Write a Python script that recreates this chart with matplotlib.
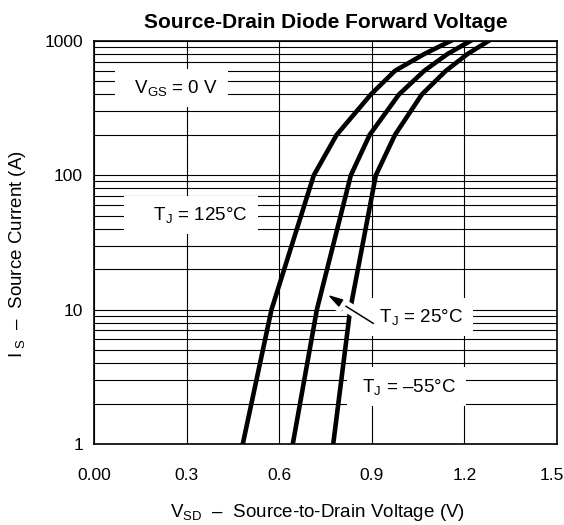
# Source-drain diode forward voltage curves (datasheet style)
import matplotlib
matplotlib.use("Agg")
import matplotlib.pyplot as plt
import matplotlib.patheffects as pe
from matplotlib.transforms import ScaledTranslation
from matplotlib.ticker import LogLocator, NullFormatter

plt.rcParams['font.family'] = ['Liberation Sans', 'DejaVu Sans']
plt.rcParams['mathtext.fontset'] = 'custom'
plt.rcParams['mathtext.rm'] = 'Liberation Sans'
plt.rcParams['mathtext.it'] = 'Liberation Sans:italic'
plt.rcParams['mathtext.bf'] = 'Liberation Sans:bold'

# data
current = [1, 10, 100, 200, 400, 600, 800, 1000]
v_125 = [0.482, 0.575, 0.712, 0.786, 0.897, 0.975, 1.07, 1.155]
v_25 = [0.644, 0.722, 0.832, 0.893, 0.988, 1.07, 1.145, 1.219]
v_m55 = [0.775, 0.830, 0.913, 0.975, 1.062, 1.14, 1.21, 1.278]

x_ticks = [0.0, 0.3, 0.6, 0.9, 1.2, 1.5]
x_labels = ["0.00", "0.3", "0.6", "0.9", "1.2", "1.5"]
y_ticks = [1, 10, 100, 1000]
y_labels = ["1", "10", "100", "1000"]

fig = plt.figure(figsize=(5.64, 5.25), dpi=100)
ax = fig.add_axes([94 / 564, 1 - 444 / 525, 463 / 564, 403 / 525])

for v in (v_125, v_25, v_m55):
    ax.plot(v, current, color='black', lw=3.3, solid_joinstyle='miter', zorder=4)

ax.set_yscale('log')
ax.set_xlim(0, 1.5)
ax.set_ylim(1, 1000)
ax.set_xticks(x_ticks)
ax.set_xticklabels(x_labels)
ax.set_yticks(y_ticks)
ax.set_yticklabels(y_labels)
ax.yaxis.set_minor_locator(LogLocator(base=10, subs=range(2, 10)))
ax.yaxis.set_minor_formatter(NullFormatter())

ax.set_axisbelow(True)
ax.grid(True, which='major', axis='both', color='black', lw=0.8)
ax.grid(True, which='minor', axis='y', color='black', lw=0.8)
ax.tick_params(which='both', length=0, labelsize=12.5)
ax.tick_params(axis='x', pad=17)
ax.tick_params(axis='y', pad=8)
for s in ax.spines.values():
    s.set_linewidth(1.2)

# last x label sits a little inside the frame
lab = ax.get_xticklabels()[-1]
lab.set_transform(lab.get_transform() + ScaledTranslation(-5 / 100, 0, fig.dpi_scale_trans))

ax.set_title("Source-Drain Diode Forward Voltage", fontsize=15,
             fontweight='bold', pad=9)
ax.set_xlabel(r"V$_{\mathrm{SD}}$  –  Source-to-Drain Voltage (V)", fontsize=13.5)
ax.set_ylabel(r"I$_{\ \mathrm{S}}$  –  Source Current (A)", fontsize=13.5)
ax.xaxis.set_label_coords(0.483, -0.145)
ax.yaxis.set_label_coords(-0.142, 0.47)

box = dict(boxstyle='square,pad=0.5', facecolor='white', edgecolor='none')
ax.text(0.251, 447, r"  V$_{\mathrm{GS}}$ = 0 V ", fontsize=13.5,
        ha='center', va='center', bbox=box, zorder=3)
ax.text(0.313, 50.7, r"    T$_{\mathrm{J}}$ = 125°C ", fontsize=13.5,
        ha='center', va='center', bbox=box, zorder=3)
ax.text(1.027, 8.8, r"    T$_{\mathrm{J}}$ = 25°C ", fontsize=13.5,
        ha='center', va='center', bbox=box, zorder=3)
ax.text(1.012, 2.67, r" T$_{\mathrm{J}}$ = –55°C ", fontsize=13.5,
        ha='center', va='center', bbox=box, zorder=3)

ax.annotate("", xy=(0.757, 12.9), xytext=(0.905, 7.9),
            arrowprops=dict(arrowstyle='-|>,head_length=0.9,head_width=0.25',
                            color='black', lw=1.1, shrinkA=0, shrinkB=0,
                            path_effects=[pe.withStroke(linewidth=8, foreground='white')]),
            zorder=5)

fig.savefig("out.png", dpi=100)
